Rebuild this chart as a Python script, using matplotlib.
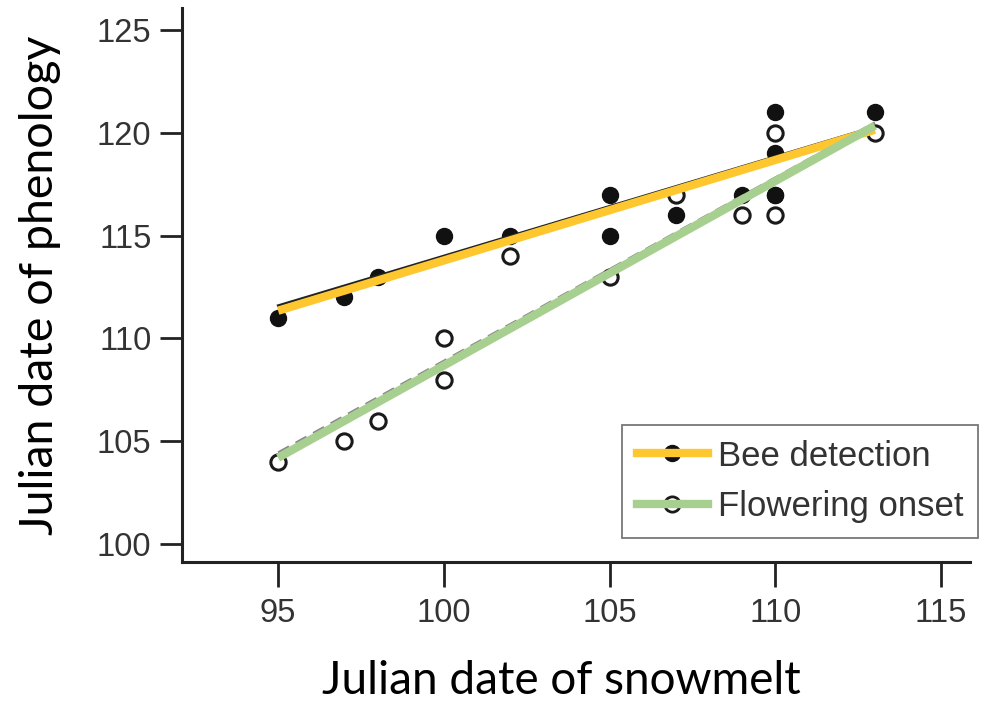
import matplotlib.pyplot as plt
from matplotlib.lines import Line2D

# snowmelt date vs. phenology date
bee_x = [95, 97, 98, 100, 102, 105, 105, 107, 109, 110, 110, 110, 110, 113]
bee_y = [111, 112, 113, 115, 115, 117, 115, 116, 117, 121, 119, 117, 117, 121]
flower_x = [95, 97, 98, 100, 100, 102, 105, 107, 109, 110, 110, 113]
flower_y = [104, 105, 106, 110, 108, 114, 113, 117, 116, 120, 116, 120]

# regression lines (original black/grey + coloured overlay)
fit_x = [95, 113]
bee_fit_orig = [111.6, 120.3]
bee_fit = [111.35, 120.15]
flower_fit_orig = [104.45, 120.5]
flower_fit = [104.2, 120.35]

xticks = [95, 100, 105, 110, 115]
yticks = [100, 105, 110, 115, 120, 125]

yellow = '#FEC72F'
green = '#A7CF8F'
tickfont = 'Liberation Sans'
labelfont = 'Lato'

fig = plt.figure(figsize=(9.96, 7.04), dpi=100)
ax = fig.add_axes([0.1827, 0.2017, 0.7912, 0.7869])

ax.plot(flower_x, flower_y, 'o', ms=11, mfc='white', mec='#1a1a1a', mew=2.2, ls='none', zorder=2)
ax.plot(bee_x, bee_y, 'o', ms=11.5, mfc='#111111', mec='#111111', ls='none', zorder=3)
ax.plot(fit_x, bee_fit_orig, '-', color='#222222', lw=1.8, zorder=4)
ax.plot(fit_x, flower_fit_orig, '--', color='#888888', lw=1.8, dashes=(5, 3), zorder=4)
ax.plot(fit_x, bee_fit, '-', color=yellow, lw=6, solid_capstyle='butt', zorder=5)
ax.plot(fit_x, flower_fit, '-', color=green, lw=6, solid_capstyle='butt', zorder=5)

ax.set_xlim(92.1, 115.87)
ax.set_ylim(99.13, 126.07)
ax.set_xticks(xticks)
ax.set_yticks(yticks)
ax.spines['top'].set_visible(False)
ax.spines['right'].set_visible(False)
for s in ['left', 'bottom']:
    ax.spines[s].set_linewidth(2.2)
    ax.spines[s].set_color('#222222')
ax.tick_params(axis='x', length=18, width=2, color='#222222', pad=8, labelsize=23.5, labelcolor='#333333')
ax.tick_params(axis='y', length=16, width=2, color='#222222', pad=6, labelsize=23.5, labelcolor='#333333')
for lab in ax.get_xticklabels() + ax.get_yticklabels():
    lab.set_fontfamily(tickfont)

fig.text(561 / 996, 1 - 681 / 704, 'Julian date of snowmelt', fontsize=33, family=labelfont,
         ha='center', va='center')
fig.text(40 / 996, 1 - 285 / 704, 'Julian date of phenology', fontsize=33.5, family=labelfont,
         ha='center', va='center', rotation=90)

h_bee = (Line2D([], [], color='#222222', lw=1.8, marker='o', ms=11.5, mfc='#111111', mec='#111111'),
         Line2D([], [], color=yellow, lw=6))
h_flower = (Line2D([], [], color='#888888', lw=1.8, ls='--', marker='o', ms=11, mfc='white', mec='#1a1a1a', mew=2),
            Line2D([], [], color=green, lw=6))
leg = ax.legend([h_bee, h_flower], ['Bee detection', 'Flowering onset'],
                loc='upper left', bbox_to_anchor=(622 / 996, 1 - 425 / 704), bbox_transform=fig.transFigure,
                borderaxespad=0, fancybox=False, framealpha=1, edgecolor='#777777',
                prop={'family': tickfont, 'size': 25}, handlelength=2.05, handletextpad=0.3,
                labelspacing=0.5, borderpad=0.42)
leg.get_frame().set_linewidth(1.3)
for t in leg.get_texts():
    t.set_color('#333333')

fig.savefig('out.png', dpi=100)
